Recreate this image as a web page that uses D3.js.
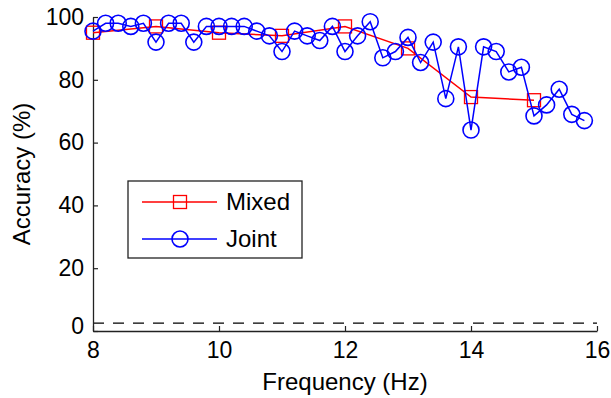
<!DOCTYPE html>
<html>
<head>
<meta charset="utf-8">
<script src="https://cdn.jsdelivr.net/npm/d3@7"></script>
<style>
  body { margin: 0; background: #fff; }
  svg { font-family: "Liberation Sans", Arial, sans-serif; }
</style>
</head>
<body>
<div id="chart"></div>
<script>
// data
const mixedFreq = [8, 9, 10, 11, 12, 13, 14, 15];
const mixedAcc = [95, 97, 95, 94, 97, 90, 74.5, 73.5];

const jointFreq = [8.0, 8.2, 8.4, 8.6, 8.8, 9.0, 9.2, 9.4, 9.6, 9.8,
  10.0, 10.2, 10.4, 10.6, 10.8, 11.0, 11.2, 11.4, 11.6, 11.8,
  12.0, 12.2, 12.4, 12.6, 12.8, 13.0, 13.2, 13.4, 13.6, 13.8,
  14.0, 14.2, 14.4, 14.6, 14.8, 15.0, 15.2, 15.4, 15.6, 15.8];
const jointAcc = [95.5, 98, 98, 97, 98, 92, 98, 98, 92, 97,
  97, 97, 97, 95.5, 94, 89, 95.5, 94, 92.5, 97,
  89, 94, 98.5, 87, 89, 93.5, 85.5, 92, 74, 90.5,
  64, 90.5, 89, 82.5, 84, 68.5, 72, 77, 69, 67];

const chanceLevel = 2.5;
const xTicks = [8, 10, 12, 14, 16];
const yTicks = [0, 20, 40, 60, 80, 100];

const width = 611, height = 398;
const margin = { top: 17, right: 14, bottom: 67, left: 93 };

const svg = d3.select('#chart').append('svg')
  .attr('width', width)
  .attr('height', height);

const x = d3.scaleLinear().domain([8, 16]).range([margin.left, width - margin.right]);
const y = d3.scaleLinear().domain([0, 100]).range([height - margin.bottom, margin.top]);

// chance line
svg.append('line')
  .attr('x1', x(8)).attr('x2', x(16))
  .attr('y1', y(chanceLevel)).attr('y2', y(chanceLevel))
  .style('stroke', '#000')
  .style('stroke-width', 1.3)
  .style('stroke-dasharray', '11,9');

// axes, matlab style: inward ticks
const xAxis = svg.append('g')
  .attr('transform', 'translate(0,' + y(0) + ')')
  .call(d3.axisBottom(x).tickValues(xTicks).tickSize(-5).tickPadding(11).tickSizeOuter(0));
const yAxis = svg.append('g')
  .attr('transform', 'translate(' + x(8) + ',0)')
  .call(d3.axisLeft(y).tickValues(yTicks).tickSize(-5).tickPadding(9).tickSizeOuter(0));

[xAxis, yAxis].forEach(a => {
  a.select('.domain').style('stroke', '#222').style('stroke-width', 1.3);
  a.selectAll('.tick line').style('stroke', '#222').style('stroke-width', 1.2);
  a.selectAll('.tick text').style('font-size', '23px').style('font-family', '"Liberation Sans", Arial, sans-serif').attr('fill', '#000');
});
// matlab draws the zero label a little above the axis line
yAxis.selectAll('.tick text').filter(d => d === 0).attr('y', -5);

svg.append('text')
  .attr('x', (x(8) + x(16)) / 2)
  .attr('y', 390)
  .attr('text-anchor', 'middle')
  .style('font-size', '24px')
  .text('Frequency (Hz)');

svg.append('text')
  .attr('transform', 'translate(30,' + ((y(0) + y(100)) / 2) + ') rotate(-90)')
  .attr('text-anchor', 'middle')
  .style('font-size', '24px')
  .text('Accuracy (%)');

const mixed = mixedFreq.map((f, i) => ({ f: f, v: mixedAcc[i] }));
const joint = jointFreq.map((f, i) => ({ f: f, v: jointAcc[i] }));

const line = d3.line().x(d => x(d.f)).y(d => y(d.v));

svg.append('path')
  .datum(mixed)
  .attr('d', line)
  .style('fill', 'none')
  .style('stroke', '#ff0000')
  .style('stroke-width', 1.5);

svg.selectAll('rect.mixed')
  .data(mixed)
  .enter()
  .append('rect')
  .attr('class', 'mixed')
  .attr('x', d => x(d.f) - 6.5)
  .attr('y', d => y(d.v) - 6.5)
  .attr('width', 13)
  .attr('height', 13)
  .style('fill', 'none')
  .style('stroke', '#ff0000')
  .style('stroke-width', 1.3);

svg.append('path')
  .datum(joint)
  .attr('d', line)
  .style('fill', 'none')
  .style('stroke', '#0000ff')
  .style('stroke-width', 1.5);

svg.selectAll('circle.joint')
  .data(joint)
  .enter()
  .append('circle')
  .attr('class', 'joint')
  .attr('cx', d => x(d.f))
  .attr('cy', d => y(d.v))
  .attr('r', 8)
  .style('fill', 'none')
  .style('stroke', '#0000ff')
  .style('stroke-width', 1.6);

// legend
const legend = svg.append('g').attr('transform', 'translate(128,181)');
legend.append('rect')
  .attr('width', 174).attr('height', 77)
  .style('fill', '#fff')
  .style('stroke', '#222')
  .style('stroke-width', 1.3);

const legendItems = [
  { name: 'Mixed', color: '#ff0000', shape: 'square', y: 21 },
  { name: 'Joint', color: '#0000ff', shape: 'circle', y: 58 }
];
legendItems.forEach(item => {
  legend.append('line')
    .attr('x1', 14).attr('x2', 89)
    .attr('y1', item.y).attr('y2', item.y)
    .style('stroke', item.color)
    .style('stroke-width', 1.5);
  if (item.shape === 'square') {
    legend.append('rect')
      .attr('x', 45.5).attr('y', item.y - 6.5)
      .attr('width', 13).attr('height', 13)
      .style('fill', 'none').style('stroke', item.color).style('stroke-width', 1.3);
  } else {
    legend.append('circle')
      .attr('cx', 52).attr('cy', item.y).attr('r', 8)
      .style('fill', 'none').style('stroke', item.color).style('stroke-width', 1.6);
  }
  legend.append('text')
    .attr('x', 98)
    .attr('y', item.y)
    .attr('dy', '0.35em')
    .style('font-size', '24px')
    .text(item.name);
});
</script>
</body>
</html>
